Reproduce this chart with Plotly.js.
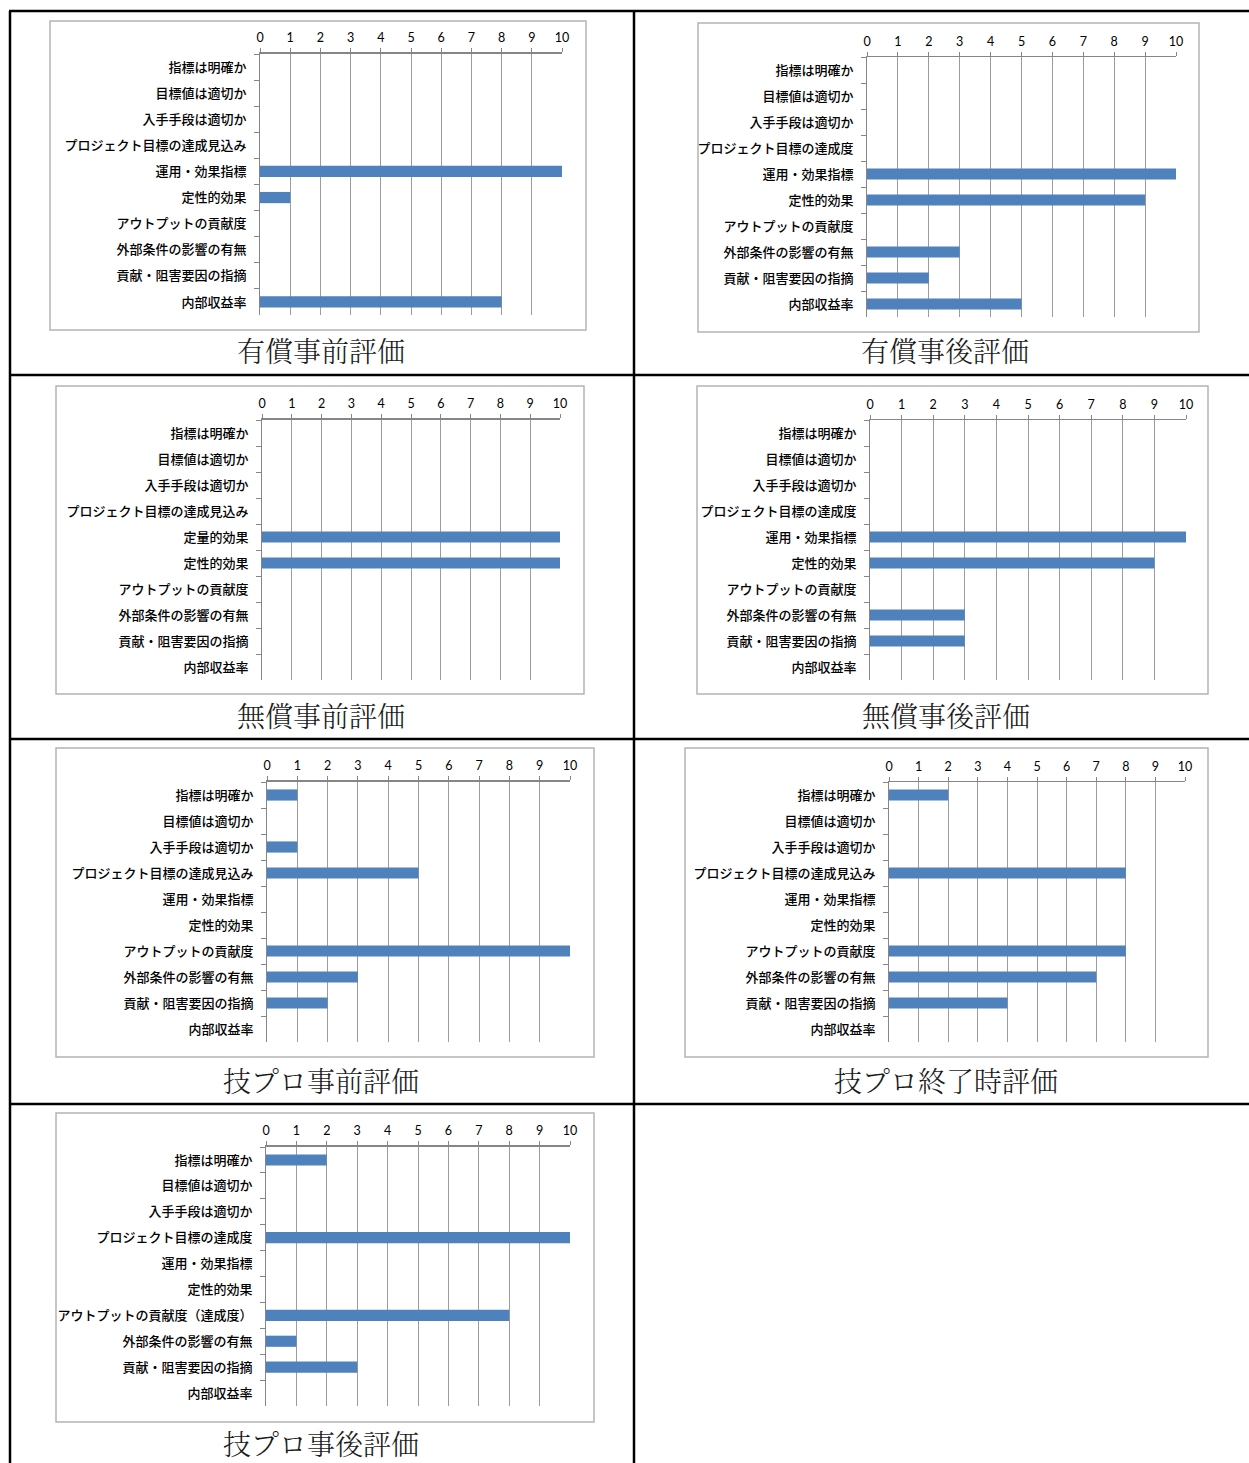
<!DOCTYPE html>
<html>
<head>
<meta charset="utf-8">
<script src="https://cdn.plot.ly/plotly-3.0.1.min.js"></script>
<style>
  html, body { margin: 0; padding: 0; background: #ffffff; }
  #chart { width: 1249px; height: 1463px; }
</style>
</head>
<body>
<div id="chart"></div>
<script>
// ---------- data ----------
const titles = ["有償事前評価", "有償事後評価", "無償事前評価", "無償事後評価", "技プロ事前評価", "技プロ終了時評価", "技プロ事後評価"];

const categories1 = ["指標は明確か", "目標値は適切か", "入手手段は適切か", "プロジェクト目標の達成見込み", "運用・効果指標", "定性的効果", "アウトプットの貢献度", "外部条件の影響の有無", "貢献・阻害要因の指摘", "内部収益率"];
const values1 = [0, 0, 0, 0, 10, 1, 0, 0, 0, 8];

const categories2 = ["指標は明確か", "目標値は適切か", "入手手段は適切か", "プロジェクト目標の達成度", "運用・効果指標", "定性的効果", "アウトプットの貢献度", "外部条件の影響の有無", "貢献・阻害要因の指摘", "内部収益率"];
const values2 = [0, 0, 0, 0, 10, 9, 0, 3, 2, 5];

const categories3 = ["指標は明確か", "目標値は適切か", "入手手段は適切か", "プロジェクト目標の達成見込み", "定量的効果", "定性的効果", "アウトプットの貢献度", "外部条件の影響の有無", "貢献・阻害要因の指摘", "内部収益率"];
const values3 = [0, 0, 0, 0, 10, 10, 0, 0, 0, 0];

const categories4 = ["指標は明確か", "目標値は適切か", "入手手段は適切か", "プロジェクト目標の達成度", "運用・効果指標", "定性的効果", "アウトプットの貢献度", "外部条件の影響の有無", "貢献・阻害要因の指摘", "内部収益率"];
const values4 = [0, 0, 0, 0, 10, 9, 0, 3, 3, 0];

const categories5 = ["指標は明確か", "目標値は適切か", "入手手段は適切か", "プロジェクト目標の達成見込み", "運用・効果指標", "定性的効果", "アウトプットの貢献度", "外部条件の影響の有無", "貢献・阻害要因の指摘", "内部収益率"];
const values5 = [1, 0, 1, 5, 0, 0, 10, 3, 2, 0];

const categories6 = ["指標は明確か", "目標値は適切か", "入手手段は適切か", "プロジェクト目標の達成見込み", "運用・効果指標", "定性的効果", "アウトプットの貢献度", "外部条件の影響の有無", "貢献・阻害要因の指摘", "内部収益率"];
const values6 = [2, 0, 0, 8, 0, 0, 8, 7, 4, 0];

const categories7 = ["指標は明確か", "目標値は適切か", "入手手段は適切か", "プロジェクト目標の達成度", "運用・効果指標", "定性的効果", "アウトプットの貢献度（達成度）", "外部条件の影響の有無", "貢献・阻害要因の指摘", "内部収益率"];
const values7 = [2, 0, 0, 10, 0, 0, 8, 1, 3, 0];

const xTickValues = [0, 1, 2, 3, 4, 5, 6, 7, 8, 9, 10];

// ---------- layout geometry (pixels) ----------
const W = 1249, H = 1463;
const px = v => v / W;
const py = v => 1 - v / H;

const charts = [
  { cats: categories1, vals: values1, plot: [260, 562, 54, 315], box: [50, 586, 21, 330], cap: [321, 350], axisW: 2 },
  { cats: categories2, vals: values2, plot: [867, 1176, 57, 317], box: [698, 1199, 23, 332], cap: [945, 350], axisW: 1.5 },
  { cats: categories3, vals: values3, plot: [262, 560, 420, 680], box: [56, 584, 386, 694], cap: [321, 715], axisW: 2 },
  { cats: categories4, vals: values4, plot: [870, 1186, 420, 680], box: [697, 1208, 386, 694], cap: [946, 715], axisW: 1.5 },
  { cats: categories5, vals: values5, plot: [267, 570, 782, 1042], box: [56, 594, 748, 1057], cap: [321, 1080], axisW: 2 },
  { cats: categories6, vals: values6, plot: [889, 1185, 782, 1042], box: [685, 1208, 748, 1057], cap: [946, 1080], axisW: 1.5 },
  { cats: categories7, vals: values7, plot: [266, 570, 1147, 1406], box: [56, 594, 1113, 1422], cap: [321, 1443], axisW: 2 }
];

const jpFont = '"Noto Sans CJK JP", "Noto Sans", sans-serif';
const numFont = 'Lato, "Liberation Sans", sans-serif';
const capFont = '"Noto Serif CJK JP", "Noto Sans CJK JP", serif';

const data = [];
const layout = {
  width: W, height: H,
  margin: { l: 0, r: 0, t: 0, b: 0 },
  paper_bgcolor: '#ffffff',
  plot_bgcolor: 'rgba(0,0,0,0)',
  showlegend: false,
  shapes: [],
  annotations: []
};

charts.forEach((c, i) => {
  const n = i + 1;
  const sfx = n === 1 ? '' : String(n);
  data.push({
    type: 'bar',
    orientation: 'h',
    x: c.vals,
    y: c.cats,
    xaxis: 'x' + sfx,
    yaxis: 'y' + sfx,
    width: 0.43,
    marker: { color: '#4f81bd', line: { width: 0 } },
    hoverinfo: 'skip'
  });
  layout['xaxis' + sfx] = {
    domain: [px(c.plot[0]), px(c.plot[1])],
    anchor: 'y' + sfx,
    side: 'top',
    range: [0, 10],
    tickvals: xTickValues,
    ticktext: xTickValues.map(String),
    showgrid: true,
    gridcolor: '#9c9c9c',
    gridwidth: 1,
    zeroline: false,
    showline: true,
    linecolor: '#868686',
    linewidth: c.axisW,
    ticks: 'outside',
    ticklen: 4,
    tickwidth: 1,
    tickcolor: '#868686',
    ticklabelstandoff: 1,
    tickfont: { family: numFont, size: 12.5, color: '#000000' },
    fixedrange: true
  };
  layout['yaxis' + sfx] = {
    domain: [py(c.plot[3]), py(c.plot[2])],
    anchor: 'x' + sfx,
    type: 'category',
    categoryorder: 'array',
    categoryarray: c.cats,
    range: [c.cats.length - 0.5, -0.5],
    tickson: 'boundaries',
    ticks: 'outside',
    ticklen: 5,
    tickwidth: 1,
    tickcolor: '#868686',
    showline: true,
    linecolor: '#868686',
    linewidth: 1,
    showgrid: false,
    zeroline: false,
    ticklabelstandoff: 10,
    tickfont: { family: jpFont, size: 13, color: '#000000', weight: 500 },
    fixedrange: true
  };
  // chart frame
  layout.shapes.push({
    type: 'rect', xref: 'paper', yref: 'paper',
    x0: px(c.box[0]), x1: px(c.box[1]), y0: py(c.box[3]), y1: py(c.box[2]),
    line: { color: '#b4b4b4', width: 1.5 }, fillcolor: 'rgba(0,0,0,0)', layer: 'below'
  });
  // caption
  layout.annotations.push({
    xref: 'paper', yref: 'paper',
    x: px(c.cap[0]), y: py(c.cap[1]),
    xanchor: 'center', yanchor: 'middle',
    text: titles[i], showarrow: false,
    font: { family: capFont, size: 28, color: '#1a1a1a', weight: 300 }
  });
});

// table borders
const tableLine = { color: '#000000', width: 2.5 };
[[10, 11, 10, 1463], [634, 11, 634, 1463]].forEach(l => {
  layout.shapes.push({ type: 'line', xref: 'paper', yref: 'paper',
    x0: px(l[0]), y0: py(l[1]), x1: px(l[2]), y1: py(l[3]), line: tableLine });
});
[11, 375, 739, 1104].forEach(y => {
  layout.shapes.push({ type: 'line', xref: 'paper', yref: 'paper',
    x0: px(9), y0: py(y), x1: px(1249), y1: py(y), line: tableLine });
});

Plotly.newPlot('chart', data, layout, { staticPlot: true, displayModeBar: false });
</script>
</body>
</html>
